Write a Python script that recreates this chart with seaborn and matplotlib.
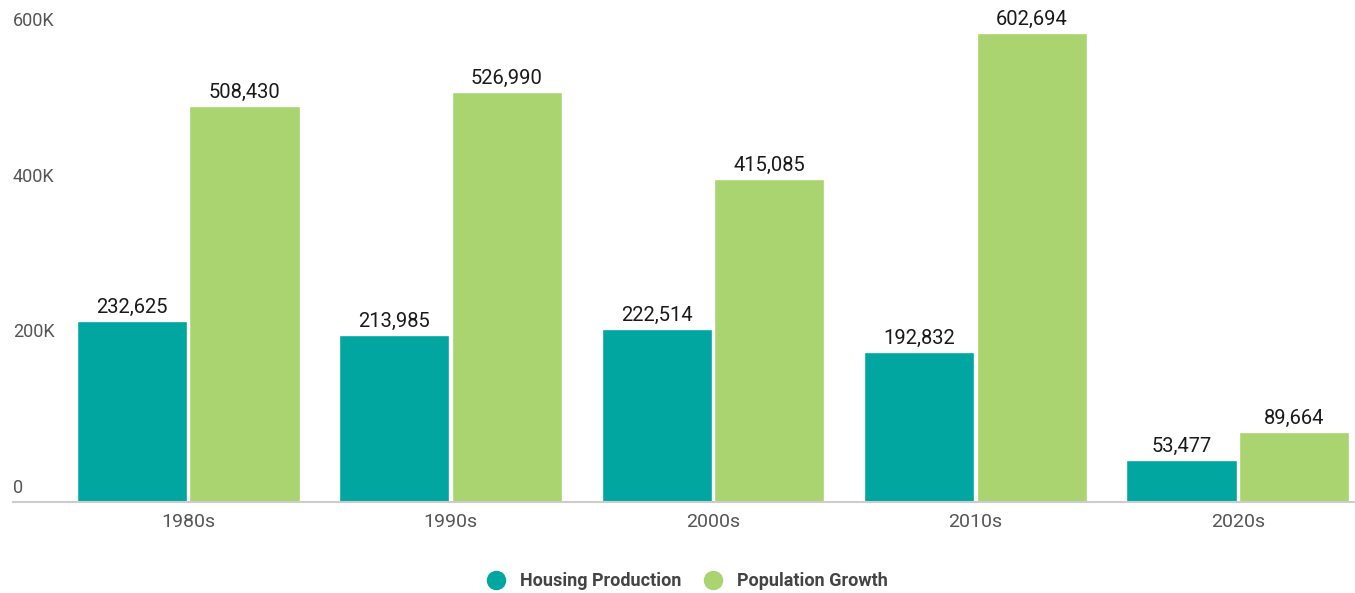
import matplotlib
matplotlib.use("Agg")
import matplotlib.pyplot as plt
import matplotlib.transforms as mtransforms
from matplotlib.lines import Line2D
import seaborn as sns
import pandas as pd

decades = ["1980s", "1990s", "2000s", "2010s", "2020s"]
housing_production = [232625, 213985, 222514, 192832, 53477]
population_growth = [508430, 526990, 415085, 602694, 89664]
series_names = ["Housing Production", "Population Growth"]
ytick_values = [0, 200000, 400000, 600000]
ytick_labels = ["0", "200K", "400K", "600K"]
colors = ["#00A69F", "#A9D46F"]

df = pd.DataFrame({
    "decade": decades * 2,
    "value": housing_production + population_growth,
    "series": [series_names[0]] * len(decades) + [series_names[1]] * len(decades),
})

sns.set_theme(style="white")
plt.rcParams["font.family"] = ["Roboto", "DejaVu Sans"]

fig = plt.figure(figsize=(13.55, 5.93), dpi=100)
ax = fig.add_axes([13 / 1355, 91 / 593, 1342 / 1355, 502 / 593])

sns.barplot(data=df, x="decade", y="value", hue="series", palette=colors,
            width=0.86, gap=0.025, ax=ax, legend=False, saturation=1)

ax.set_xlim(-0.667, 4.446)
ax.set_ylim(0, 645000)
ax.set_xlabel("")
ax.set_ylabel("")

for c in ax.containers:
    ax.bar_label(c, labels=[f"{v:,.0f}" for v in c.datavalues], padding=3,
                 fontsize=14.5, color="#1a1a1a")

for s in ["top", "right", "left"]:
    ax.spines[s].set_visible(False)
ax.spines["bottom"].set_color("#cccccc")
ax.spines["bottom"].set_linewidth(1.5)

ax.set_yticks(ytick_values)
ax.set_yticklabels(ytick_labels)
ax.tick_params(axis="y", length=0, pad=0, labelsize=13, labelcolor="#555555")
ax.tick_params(axis="x", length=0, pad=8, labelsize=14, labelcolor="#555555")
offset = mtransforms.ScaledTranslation(0, 5 / 100, fig.dpi_scale_trans)
for lab in ax.get_yticklabels():
    lab.set_horizontalalignment("left")
    lab.set_verticalalignment("bottom")
    lab.set_transform(lab.get_transform() + offset)

handles = [Line2D([0], [0], marker="o", linestyle="", markersize=13,
                  markerfacecolor=col, markeredgecolor=col) for col in colors]
leg = fig.legend(handles, series_names, loc="center", bbox_to_anchor=(0.504, 12 / 593),
                 ncol=2, frameon=False, handletextpad=0.3, columnspacing=0.8,
                 prop={"weight": "bold", "size": 13})
for t in leg.get_texts():
    t.set_color("#444444")

fig.savefig("out.png", dpi=100)
